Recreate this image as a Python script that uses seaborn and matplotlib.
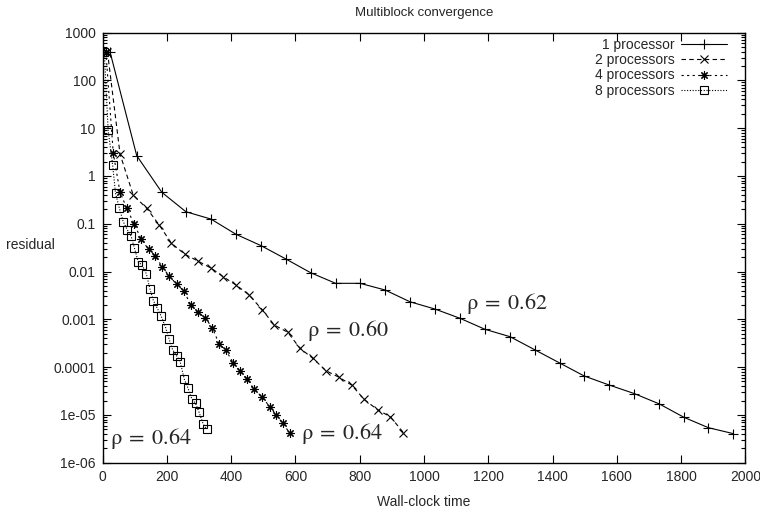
import numpy as np
import pandas as pd
import seaborn as sns
import matplotlib.pyplot as plt
from matplotlib.ticker import FixedLocator, FuncFormatter, LogLocator, NullFormatter

# 1 processor
t1 = [23, 106, 184, 259, 337, 415, 493, 570, 647, 725, 801, 879, 956, 1034, 1112,
      1190, 1268, 1346, 1424, 1499, 1577, 1654, 1732, 1809, 1885, 1963]
r1 = [390, 2.65, 0.454, 0.178, 0.125, 0.060, 0.0347, 0.0183, 0.00944, 0.00566,
      0.00566, 0.0041, 0.00233, 0.00164, 0.00105, 0.000617, 0.000432, 0.000228,
      0.00012, 6.5e-5, 4.2e-5, 2.8e-5, 1.7e-5, 8.9e-6, 5.4e-6, 4.05e-6]

# 2 processors
t2 = [15, 54, 95, 137, 176, 214, 256, 296, 338, 375, 415, 455, 497, 534, 576, 614,
      654, 695, 736, 775, 814, 856, 895, 936]
r2 = [390, 2.87, 0.398, 0.21, 0.094, 0.039, 0.0229, 0.0166, 0.0117, 0.00778,
      0.00522, 0.00327, 0.00157, 0.00076, 0.000535, 0.000247, 0.000153, 8.4e-5,
      6.1e-5, 4.2e-5, 2.1e-5, 1.27e-5, 9.2e-6, 4.25e-6]

# 4 processors
t4 = [10, 33, 54, 75, 98, 120, 143, 164, 186, 207, 230, 253, 274, 296, 319, 341,
      363, 383, 407, 427, 450, 472, 495, 520, 540, 560, 583]
r4 = [390, 2.97, 0.454, 0.21, 0.0986, 0.0472, 0.0291, 0.0211, 0.0122, 0.00805,
      0.0054, 0.0039, 0.00199, 0.0014, 0.00108, 0.000667, 0.0003, 0.000228,
      0.00012, 8.4e-5, 5.6e-5, 3.4e-5, 2.4e-5, 1.49e-5, 1e-5, 6.7e-6, 4.1e-6]

# 8 processors
t8 = [5, 17, 31, 40, 52, 64, 77, 88, 99, 111, 123, 136, 147, 158, 170, 182, 196,
      207, 218, 230, 241, 254, 265, 277, 289, 300, 313, 324]
r8 = [390, 9.1, 1.69, 0.43, 0.21, 0.11, 0.0738, 0.056, 0.0306, 0.0156, 0.0137,
      0.0089, 0.0043, 0.00245, 0.0017, 0.00117, 0.000667, 0.000382, 0.000228,
      0.000173, 0.00013, 5.6e-5, 3.7e-5, 2.2e-5, 1.75e-5, 1.13e-5, 6.4e-6, 5e-6]

labels = ["1 processor", "2 processors", "4 processors", "8 processors"]

# rho annotations: text, time, residual
rho_vals = ["0.62", "0.60", "0.64", "0.64"]
rho_t = [1131, 635, 617, 23]
rho_r = [0.00216, 0.000597, 4.1e-6, 3.2e-6]

sns.set_style("ticks")
plt.rcParams["font.family"] = ["Liberation Sans", "DejaVu Sans"]
plt.rcParams["mathtext.fontset"] = "stix"

fig = plt.figure(figsize=(7.6, 5.12), dpi=100)
ax = fig.add_axes([0.1351, 0.0963, 0.8456, 0.8402])

styles = [
    dict(marker="+", linestyle="-", markersize=7),
    dict(marker="x", linestyle=(0, (4, 3)), markersize=6),
    dict(marker=(8, 2, 0), linestyle=(0, (2, 3)), markersize=6),
    dict(marker="s", linestyle=(0, (1, 1.5)), markersize=6, markerfacecolor="none"),
]
series = [(t1, r1), (t2, r2), (t4, r4), (t8, r8)]

for (t, r), lab, st in zip(series, labels, styles):
    df = pd.DataFrame({"time": t, "residual": r})
    sns.lineplot(data=df, x="time", y="residual", ax=ax, color="black", lw=0.8,
                 mec="black", mew=0.8, label=lab, estimator=None, sort=False, **st)

for val, tx, ry in zip(rho_vals, rho_t, rho_r):
    ax.text(tx, ry, r"$\mathrm{\rho}\;=\;%s$" % val, fontsize=16, ha="left", va="center")

ax.set_yscale("log")
ax.set_xlim(0, 2000)
ax.set_ylim(1e-6, 1000)
ax.xaxis.set_major_locator(FixedLocator(np.arange(0, 2001, 200)))
ax.yaxis.set_major_locator(LogLocator(base=10, numticks=20))
ax.yaxis.set_minor_locator(LogLocator(base=10, subs=np.arange(2, 10), numticks=20))
ax.yaxis.set_major_formatter(FuncFormatter(lambda v, p: "%g" % v))
ax.yaxis.set_minor_formatter(NullFormatter())
ax.tick_params(which="both", direction="in", top=True, right=True, labelsize=10,
               color="black", width=0.8)
ax.tick_params(which="major", length=6, pad=5)
ax.tick_params(which="minor", length=3)
for s in ax.spines.values():
    s.set_color("black")
    s.set_linewidth(1)

ax.set_xlabel("Wall-clock time", fontsize=10, labelpad=8)
ax.set_ylabel("residual", fontsize=10, rotation=0, ha="center", va="center")
ax.yaxis.set_label_coords(-0.113, 0.506)
ax.set_title("Multiblock convergence", fontsize=9.5, pad=12)

ax.legend(loc="upper right", bbox_to_anchor=(0.9715, 0.988), frameon=False,
          markerfirst=False, fontsize=10, handlelength=3.3, handletextpad=0.45,
          labelspacing=0.1, borderpad=0, borderaxespad=0)

fig.savefig("out.png", dpi=100)
